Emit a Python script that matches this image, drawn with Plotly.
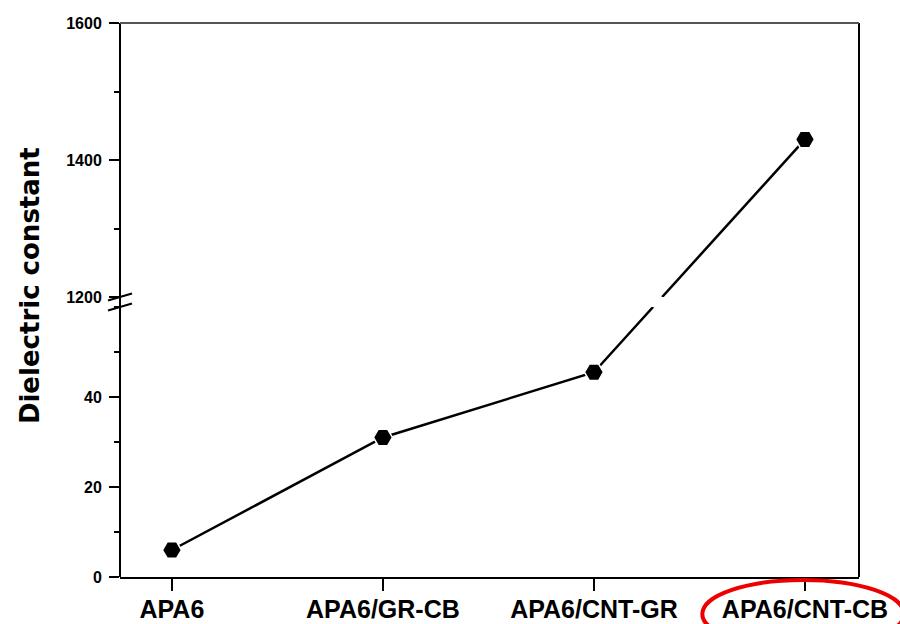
import plotly.graph_objects as go

# Samples and measured dielectric constants
categories = ["APA6", "APA6/GR-CB", "APA6/CNT-GR", "APA6/CNT-CB"]
dielectric = [6.0, 31.0, 45.5, 1430.0]

# Broken y-axis: lower and upper segments
lower_range = [0, 60]
upper_range = [1200, 1600]
lower_ticks = [0, 20, 40]
upper_ticks = [1200, 1400, 1600]

lower_dom = [0.0, 0.4874]
upper_dom = [0.5054, 1.0]

x_pos = list(range(len(categories)))


def to_paper(v):
    """Map a data value onto the paper y coordinate of the broken axis."""
    if v <= lower_range[1]:
        f = (v - lower_range[0]) / (lower_range[1] - lower_range[0])
        return lower_dom[0] + f * (lower_dom[1] - lower_dom[0])
    f = (v - upper_range[0]) / (upper_range[1] - upper_range[0])
    return upper_dom[0] + f * (upper_dom[1] - upper_dom[0])


lower_idx = [i for i, v in enumerate(dielectric) if v <= lower_range[1]]
upper_idx = [i for i, v in enumerate(dielectric) if v > lower_range[1]]

# Segment that crosses the break: straight on screen, split into two pieces
i0, i1 = lower_idx[-1], upper_idx[0]
p0, p1 = to_paper(dielectric[i0]), to_paper(dielectric[i1])
t_low = (lower_dom[1] - p0) / (p1 - p0)
t_up = (upper_dom[0] - p0) / (p1 - p0)
x_low = x_pos[i0] + t_low * (x_pos[i1] - x_pos[i0])
x_up = x_pos[i0] + t_up * (x_pos[i1] - x_pos[i0])

line_style = dict(color="black", width=2.5)
marker_style = dict(symbol="hexagon2", size=19, color="black",
                    line=dict(color="white", width=1.5))

fig = go.Figure()
fig.add_trace(go.Scatter(
    x=[x_pos[i] for i in lower_idx] + [x_low],
    y=[dielectric[i] for i in lower_idx] + [lower_range[1]],
    mode="lines", line=line_style, yaxis="y", showlegend=False, hoverinfo="skip"))
fig.add_trace(go.Scatter(
    x=[x_up] + [x_pos[i] for i in upper_idx],
    y=[upper_range[0]] + [dielectric[i] for i in upper_idx],
    mode="lines", line=line_style, yaxis="y2", showlegend=False, hoverinfo="skip"))
fig.add_trace(go.Scatter(
    x=[x_pos[i] for i in lower_idx], y=[dielectric[i] for i in lower_idx],
    mode="markers", marker=marker_style, yaxis="y", showlegend=False))
fig.add_trace(go.Scatter(
    x=[x_pos[i] for i in upper_idx], y=[dielectric[i] for i in upper_idx],
    mode="markers", marker=marker_style, yaxis="y2", showlegend=False))

tick_font = dict(family="Liberation Sans, Arial", size=16, color="black", weight="bold")

fig.update_layout(
    width=900, height=624,
    margin=dict(l=120, r=41, t=23, b=47),
    paper_bgcolor="white", plot_bgcolor="white",
    xaxis=dict(
        range=[-0.246, 3.256], tickvals=x_pos, ticktext=categories,
        showgrid=False, zeroline=False, showline=True, linecolor="black", linewidth=2,
        ticks="outside", ticklen=12, tickwidth=2, tickcolor="black",
        tickfont=dict(family="Liberation Sans, Arial", size=25, color="black", weight="bold"),
        ticklabelstandoff=-3,
        anchor="y", automargin=False,
    ),
    yaxis=dict(
        domain=lower_dom, range=lower_range, tickvals=lower_ticks,
        showgrid=False, zeroline=False, showline=False,
        ticks="outside", ticklen=10, tickwidth=2, tickcolor="black",
        minor=dict(dtick=10, ticks="outside", ticklen=5, tickwidth=1.5, tickcolor="black"),
        tickfont=tick_font, ticklabelstandoff=4, anchor="x", automargin=False,
    ),
    yaxis2=dict(
        domain=upper_dom, range=upper_range, tickvals=upper_ticks,
        showgrid=False, zeroline=False, showline=False,
        ticks="outside", ticklen=10, tickwidth=2, tickcolor="black",
        minor=dict(dtick=100, ticks="outside", ticklen=5, tickwidth=1.5, tickcolor="black"),
        tickfont=tick_font, ticklabelstandoff=4, anchor="x", automargin=False,
    ),
)

# Frame: left and right axes in black, top edge in grey
fig.add_shape(type="line", xref="paper", yref="paper", x0=0, x1=0, y0=0, y1=1,
              line=dict(color="black", width=2))
fig.add_shape(type="line", xref="paper", yref="paper", x0=1, x1=1, y0=0, y1=1,
              line=dict(color="black", width=2))
fig.add_shape(type="line", xref="paper", yref="paper", x0=0, x1=1, y0=1, y1=1,
              line=dict(color="#555555", width=2))

# Axis-break slashes
for yb in (upper_dom[0], lower_dom[1]):
    fig.add_shape(type="line", xref="paper", yref="paper",
                  x0=-0.0162, x1=0.0162, y0=yb - 0.0063, y1=yb + 0.0063,
                  line=dict(color="black", width=2))

# Highlight ring around the last sample label
fig.add_shape(type="circle", xref="paper", yref="paper",
              x0=0.788, x1=1.061, y0=-0.128, y1=-0.0054,
              line=dict(color="#ee0000", width=4))

fig.add_annotation(
    text="Dielectric constant", textangle=-90,
    xref="paper", yref="paper", x=(30 - 120) / 740, y=(577 - 286) / 554,
    xanchor="center", yanchor="middle", showarrow=False,
    font=dict(family="DejaVu Sans", size=26, color="black", weight="bold"),
)

fig.write_html("out.html")
